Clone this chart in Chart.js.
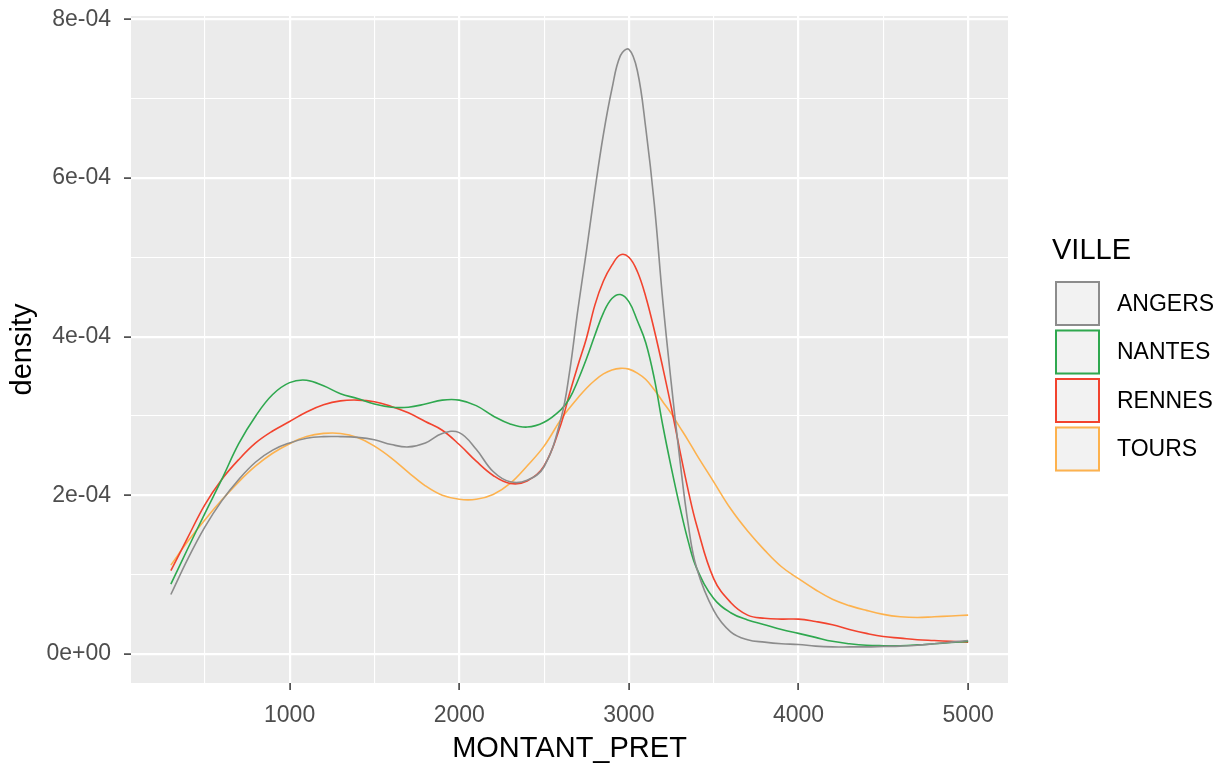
<!DOCTYPE html>
<html>
<head>
<meta charset="utf-8">
<title>Densité MONTANT_PRET par VILLE</title>
<script src="https://cdn.jsdelivr.net/npm/chart.js@4.4.1/dist/chart.umd.min.js"></script>
<style>
    html, body { margin: 0; padding: 0; background: #ffffff; }
    #wrap { width: 1220px; height: 765px; position: relative; }
</style>
</head>
<body>
<div id="wrap"><canvas id="density-chart"></canvas></div>
<script>
// Montant du prêt (axe x), pas plus fin autour du pic de 3000
const montants = [300, 400, 500, 600, 700, 800, 900, 1000, 1100, 1200, 1300, 1400, 1500, 1600,
    1700, 1800, 1900, 2000, 2100, 2200, 2300, 2400, 2500, 2600,
    2650, 2700, 2750, 2800, 2850, 2900, 2950, 3000, 3050, 3100, 3150, 3200, 3250, 3300, 3350, 3400,
    3500, 3600, 3700, 3800, 3900, 4000, 4100, 4200, 4300, 4400, 4500, 4600, 4700, 4800, 4900, 5000];

// densités, en unités de 1e-04
const angers = [0.75, 1.2, 1.6, 1.93, 2.2, 2.42, 2.57, 2.66, 2.72, 2.74, 2.74, 2.73, 2.7, 2.64,
    2.61, 2.66, 2.78, 2.79, 2.58, 2.3, 2.17, 2.19, 2.36, 2.97,
    3.55, 4.35, 5.08, 5.85, 6.55, 7.12, 7.54, 7.62, 7.35, 6.62, 5.67, 4.45, 3.41, 2.46, 1.63, 1.08,
    0.55, 0.28, 0.18, 0.15, 0.13, 0.12, 0.1, 0.09, 0.09, 0.09, 0.095, 0.1, 0.11, 0.13, 0.15, 0.17];
const nantes = [0.88, 1.33, 1.77, 2.2, 2.65, 3.0, 3.27, 3.42, 3.45, 3.38, 3.28, 3.22, 3.15, 3.11,
    3.11, 3.15, 3.2, 3.2, 3.13, 3.0, 2.9, 2.86, 2.92, 3.08,
    3.22, 3.45, 3.72, 4.02, 4.3, 4.48, 4.53, 4.44, 4.2, 3.92, 3.47, 2.88, 2.35, 1.86, 1.42, 1.08,
    0.7, 0.52, 0.43, 0.37, 0.31, 0.26, 0.21, 0.16, 0.13, 0.11, 0.105, 0.105, 0.115, 0.13, 0.145, 0.16];
const rennes = [1.05, 1.47, 1.88, 2.2, 2.45, 2.66, 2.81, 2.93, 3.05, 3.14, 3.19, 3.2, 3.18, 3.12,
    3.04, 2.93, 2.82, 2.64, 2.43, 2.25, 2.15, 2.18, 2.37, 2.9,
    3.28, 3.64, 3.98, 4.4, 4.7, 4.9, 5.03, 5.0, 4.82, 4.5, 4.08, 3.61, 3.11, 2.57, 2.06, 1.62,
    0.95, 0.65, 0.49, 0.45, 0.44, 0.44, 0.41, 0.37, 0.31, 0.26, 0.22, 0.2, 0.18, 0.17, 0.16, 0.15];
const tours = [1.12, 1.42, 1.69, 1.94, 2.17, 2.37, 2.53, 2.65, 2.74, 2.78, 2.78, 2.73, 2.62, 2.47,
    2.29, 2.12, 2.0, 1.95, 1.95, 2.01, 2.15, 2.37, 2.62, 2.96,
    3.1, 3.23, 3.35, 3.45, 3.53, 3.58, 3.6, 3.59, 3.54, 3.46, 3.33, 3.18, 3.03, 2.86, 2.69, 2.51,
    2.17, 1.83, 1.55, 1.31, 1.1, 0.95, 0.81, 0.69, 0.61, 0.55, 0.5, 0.47, 0.46, 0.47, 0.48, 0.49];

const villes = ['ANGERS', 'NANTES', 'RENNES', 'TOURS'];
const couleurs = ['#8c8c8c', '#2fa84f', '#f2432e', '#fdb24e'];

// graduations
const xTicks = [500, 1000, 1500, 2000, 2500, 3000, 3500, 4000, 4500, 5000];
const yTicks = [0, 1, 2, 3, 4, 5, 6, 7, 8]; // x 1e-04

const FONT = '"Liberation Sans", Arial, Helvetica, sans-serif';
const SCALE = 1e-4;

function toPoints(values) {
    return values.map((v, i) => ({ x: montants[i], y: v * SCALE }));
}

function isMajorX(v) { return v % 1000 === 0; }
function isMajorY(v) { return Math.round(v / SCALE) % 2 === 0; }

function formatY(v) {
    const k = Math.round(v / SCALE);
    if (k === 0) return '0e+00';
    return k + 'e-04';
}

// fond gris du panneau (style ggplot)
const panelBackground = {
    id: 'panelBackground',
    beforeDraw(chart) {
        const { ctx, chartArea } = chart;
        ctx.save();
        ctx.fillStyle = '#ebebeb';
        ctx.fillRect(chartArea.left, chartArea.top,
            chartArea.right - chartArea.left, chartArea.bottom - chartArea.top);
        ctx.restore();
    }
};

// légende à droite avec titre VILLE
const villeLegend = {
    id: 'villeLegend',
    afterDraw(chart) {
        const ctx = chart.ctx;
        const x0 = 1055;
        const boxSize = 45;
        const step = 48.5;
        const top = 281;
        ctx.save();
        ctx.fillStyle = '#000000';
        ctx.font = '29px ' + FONT;
        ctx.textBaseline = 'middle';
        ctx.textAlign = 'left';
        ctx.fillText('VILLE', 1052, 251);

        ctx.font = '23px ' + FONT;
        chart.data.datasets.forEach((ds, i) => {
            const y = top + i * step;
            ctx.fillStyle = '#f2f2f2';
            ctx.fillRect(x0, y, boxSize, boxSize);
            ctx.strokeStyle = ds.borderColor;
            ctx.lineWidth = 2;
            ctx.strokeRect(x0 + 1, y + 1, boxSize - 2, boxSize - 2);
            ctx.fillStyle = '#000000';
            ctx.fillText(ds.label, 1117, y + boxSize / 2 + 1);
        });
        ctx.restore();
    }
};

function buildChart() {
    const canvas = document.getElementById('density-chart');
    if (!canvas) return;

    const series = [angers, nantes, rennes, tours];

    new Chart(canvas, {
        type: 'line',
        data: {
            datasets: villes.map((name, i) => ({
                label: name,
                data: toPoints(series[i]),
                borderColor: couleurs[i],
                backgroundColor: couleurs[i],
                borderWidth: 1.6,
                pointRadius: 0,
                fill: false,
                tension: 0.4
            }))
        },
        options: {
            responsive: true,
            maintainAspectRatio: false,
            animation: false,
            layout: {
                padding: { left: 0, top: 16, right: 212, bottom: 0 }
            },
            plugins: {
                legend: { display: false },
                tooltip: { enabled: false }
            },
            scales: {
                x: {
                    type: 'linear',
                    min: 65,
                    max: 5235,
                    afterBuildTicks: scale => {
                        scale.ticks = xTicks.map(v => ({ value: v }));
                    },
                    afterFit: scale => { scale.height = 82; },
                    border: { display: false },
                    grid: {
                        color: '#ffffff',
                        lineWidth: c => (c.tick && isMajorX(c.tick.value)) ? 2.2 : 1.1,
                        tickLength: 7,
                        tickColor: c => (c.tick && isMajorX(c.tick.value)) ? '#333333' : 'rgba(0,0,0,0)',
                        tickWidth: 1.5
                    },
                    ticks: {
                        autoSkip: false,
                        maxRotation: 0,
                        padding: 12,
                        color: '#4d4d4d',
                        font: { size: 23 },
                        callback: v => isMajorX(v) ? String(v) : ''
                    },
                    title: {
                        display: true,
                        text: 'MONTANT_PRET',
                        color: '#000000',
                        font: { size: 29 },
                        padding: { top: 0, bottom: -1 }
                    }
                },
                y: {
                    type: 'linear',
                    min: -0.365 * SCALE,
                    max: 8.04 * SCALE,
                    afterBuildTicks: scale => {
                        scale.ticks = yTicks.map(k => ({ value: k * SCALE }));
                    },
                    afterFit: scale => {
                        scale.width = 131;
                        // pas de marge auto au-dessus/dessous du panneau
                        scale.paddingTop = 0;
                        scale.paddingBottom = 0;
                    },
                    border: { display: false },
                    grid: {
                        color: '#ffffff',
                        lineWidth: c => (c.tick && isMajorY(c.tick.value)) ? 2.2 : 1.1,
                        tickLength: 7,
                        tickColor: c => (c.tick && isMajorY(c.tick.value)) ? '#333333' : 'rgba(0,0,0,0)',
                        tickWidth: 1.5
                    },
                    ticks: {
                        autoSkip: false,
                        padding: 13,
                        color: '#4d4d4d',
                        font: { size: 23 },
                        callback: v => isMajorY(v) ? formatY(v) : ''
                    },
                    title: {
                        display: true,
                        text: 'density',
                        color: '#000000',
                        font: { size: 29 },
                        padding: { top: 6, bottom: 0 }
                    }
                }
            }
        },
        plugins: [panelBackground, villeLegend]
    });
}

Chart.defaults.font.family = FONT;
document.addEventListener('DOMContentLoaded', buildChart);
</script>
</body>
</html>
